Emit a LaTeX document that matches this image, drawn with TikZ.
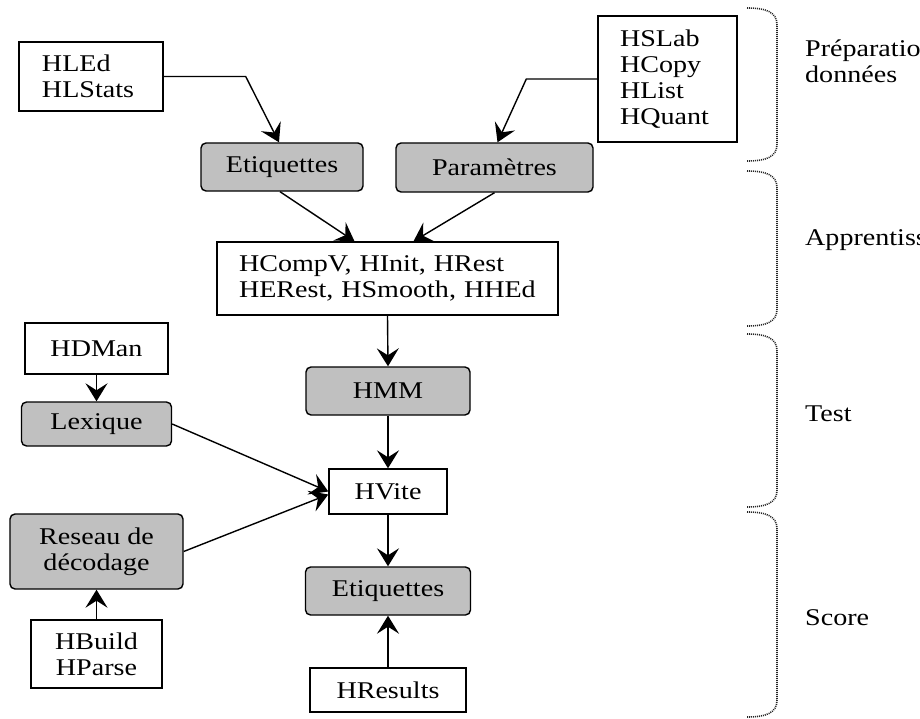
\documentclass[tikz,border=0pt]{standalone}
\usepackage{fontspec}
\setmainfont{Liberation Serif}[FakeStretch=1.17]
\usetikzlibrary{arrows.meta,calc}
\definecolor{datagray}{RGB}{192,192,192}

\begin{document}
\begin{tikzpicture}[x=1bp,y=-1bp,
  txt/.style={font=\fontsize{24bp}{26bp}\selectfont},
  tool/.style={txt, draw, line width=1.4bp, fill=white, inner sep=0pt, align=center},
  data/.style={tool, fill=datagray, rounded corners=5bp},
  arr/.style={line width=1.4bp, -{Stealth[length=18bp,width=22bp,inset=7bp]}},
  phase/.style={line width=1.6bp, dash pattern=on 1bp off 1bp, draw=black!85},
  lbl/.style={txt, inner sep=0pt}]

\useasboundingbox (0,0) rectangle (920,719);

% tools and data
\node[tool, minimum height=69bp, text width=98bp, inner xsep=23bp, align=left]
  (hled) at (91,76.5) {HLEd\\HLStats};
\node[tool, minimum height=126bp, text width=95bp, inner xsep=22bp, align=left]
  (hslab) at (667.5,79) {HSLab\\HCopy\\HList\\HQuant};
\node[data, minimum width=162bp, minimum height=48bp] (etiqA) at (282,167) {Etiquettes};
\node[data, minimum width=197bp, minimum height=49bp] (param) at (494.5,167.5) {Paramètres};
\node[tool, minimum height=73bp, text width=297bp, inner xsep=22bp, align=left]
  (hcomp) at (387.5,278.5) {HCompV, HInit, HRest\\HERest, HSmooth, HHEd};
\node[data, minimum width=164bp, minimum height=48bp] (hmm) at (388,391) {HMM};
\node[tool, minimum width=118bp, minimum height=45bp] (hvite) at (388,491.5) {HVite};
\node[data, minimum width=165bp, minimum height=48bp] (etiqB) at (388,591) {Etiquettes};
\node[tool, minimum width=156bp, minimum height=44bp] (hres) at (388,690) {HResults};
\node[tool, minimum width=143bp, minimum height=51bp] (hdman) at (96.5,348.5) {HDMan};
\node[data, minimum width=150bp, minimum height=44bp] (lex) at (96.5,424) {Lexique};
\node[data, minimum width=173bp, minimum height=75bp] (reseau) at (96.5,551.5) {Reseau de\\décodage};
\node[tool, minimum width=131bp, minimum height=68bp] (hbuild) at (96.5,654) {HBuild\\HParse};

% connectors
\draw[arr] (hled.east) -- ++(82,0) -- ([xshift=-3bp]etiqA.north);
\draw[arr] (hslab.west) -- ++(-71,0) -- ([xshift=3bp]param.north);
\draw[arr] ([xshift=-2bp]etiqA.south) -- ([xshift=-33bp]hcomp.north);
\draw[arr] (param.south) -- ([xshift=26bp]hcomp.north);
\draw[arr] (hcomp.south) -- (hmm.north);
\draw[arr] (hmm.south) -- (hvite.north);
\draw[arr] (hdman.south) -- (lex.north);
\draw[arr] (lex.east) -- (hvite.west);
\draw[arr] (reseau.east) -- ([yshift=-3bp]hvite.west);
\draw[arr] (hbuild.north) -- (reseau.south);
\draw[arr] (hvite.south) -- (etiqB.north);
\draw[arr] (hres.north) -- (etiqB.south);

% phase braces
\foreach \t/\b in {8/161, 171/326, 334/507, 512/717} {
  \draw[phase] (747,\t) .. controls (766,\t) and (777,\t+4) .. (777,\t+17)
    -- (777,\b-17) .. controls (777,\b-4) and (766,\b) .. (747,\b);
}

% phase labels, running past the right edge
\begin{scope}
  \clip (0,0) rectangle (920,719);
  \node[lbl, anchor=base west, align=left] (lprep) at (805,83) {Préparation des\\données};
  \node[lbl, anchor=base west] (lapp) at (805,245) {Apprentissage};
  \node[lbl, anchor=base west] (ltest) at (805,421) {Test};
  \node[lbl, anchor=base west] (lscore) at (805,625) {Score};
\end{scope}
\end{tikzpicture}
\end{document}
